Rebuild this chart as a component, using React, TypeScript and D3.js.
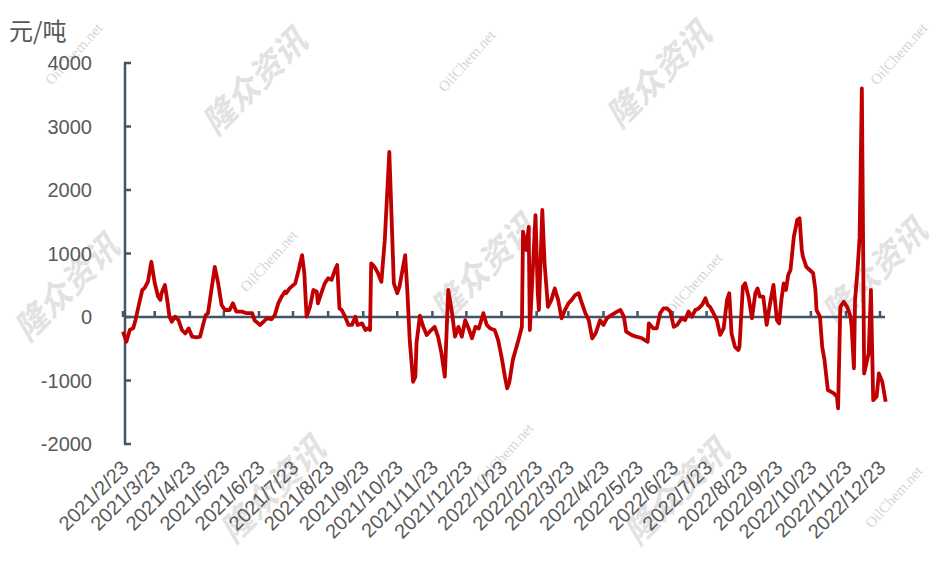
import React from 'react';
import * as d3 from 'd3';

// spread series, 元/吨
const dates = [
  '2021-02-23', '2021-02-26', '2021-03-01', '2021-03-04', '2021-03-06', '2021-03-09', '2021-03-12', '2021-03-14',
  '2021-03-17', '2021-03-20', '2021-03-23', '2021-03-26', '2021-03-28', '2021-03-29', '2021-04-01', '2021-04-03',
  '2021-04-05', '2021-04-07', '2021-04-10', '2021-04-13', '2021-04-16', '2021-04-19', '2021-04-22', '2021-04-25',
  '2021-04-29', '2021-05-02', '2021-05-05', '2021-05-07', '2021-05-09', '2021-05-12', '2021-05-15', '2021-05-18',
  '2021-05-21', '2021-05-24', '2021-05-28', '2021-05-31', '2021-06-03', '2021-06-08', '2021-06-12', '2021-06-17',
  '2021-06-19', '2021-06-24', '2021-06-27', '2021-06-30', '2021-07-04', '2021-07-07', '2021-07-10', '2021-07-13',
  '2021-07-16', '2021-07-17', '2021-07-20', '2021-07-25', '2021-07-28', '2021-07-31', '2021-08-02', '2021-08-04',
  '2021-08-07', '2021-08-10', '2021-08-13', '2021-08-14', '2021-08-17', '2021-08-20', '2021-08-23', '2021-08-26',
  '2021-08-29', '2021-08-31', '2021-09-02', '2021-09-04', '2021-09-07', '2021-09-10', '2021-09-13', '2021-09-16',
  '2021-09-18', '2021-09-22', '2021-09-25', '2021-09-27', '2021-09-29', '2021-09-30', '2021-10-03', '2021-10-06',
  '2021-10-09', '2021-10-12', '2021-10-16', '2021-10-20', '2021-10-23', '2021-10-25', '2021-10-30', '2021-11-01',
  '2021-11-03', '2021-11-06', '2021-11-08', '2021-11-09', '2021-11-12', '2021-11-15', '2021-11-18', '2021-11-22',
  '2021-11-25', '2021-11-28', '2021-12-01', '2021-12-04', '2021-12-07', '2021-12-10', '2021-12-13', '2021-12-16',
  '2021-12-19', '2021-12-22', '2021-12-25', '2021-12-28', '2021-12-31', '2022-01-03', '2022-01-07', '2022-01-10',
  '2022-01-13', '2022-01-17', '2022-01-20', '2022-01-23', '2022-01-26', '2022-01-28', '2022-01-30', '2022-02-02',
  '2022-02-07', '2022-02-10', '2022-02-11', '2022-02-14', '2022-02-16', '2022-02-17', '2022-02-22', '2022-02-24',
  '2022-02-25', '2022-02-28', '2022-03-02', '2022-03-05', '2022-03-08', '2022-03-11', '2022-03-14', '2022-03-17',
  '2022-03-20', '2022-03-23', '2022-03-26', '2022-03-29', '2022-04-01', '2022-04-04', '2022-04-07', '2022-04-10',
  '2022-04-13', '2022-04-16', '2022-04-20', '2022-04-23', '2022-04-26', '2022-04-30', '2022-05-05', '2022-05-08',
  '2022-05-11', '2022-05-13', '2022-05-18', '2022-05-22', '2022-05-27', '2022-06-01', '2022-06-02', '2022-06-06',
  '2022-06-09', '2022-06-12', '2022-06-15', '2022-06-18', '2022-06-21', '2022-06-24', '2022-06-27', '2022-07-01',
  '2022-07-04', '2022-07-07', '2022-07-10', '2022-07-13', '2022-07-16', '2022-07-19', '2022-07-22', '2022-07-24',
  '2022-07-26', '2022-07-29', '2022-08-01', '2022-08-04', '2022-08-07', '2022-08-10', '2022-08-12', '2022-08-14',
  '2022-08-17', '2022-08-20', '2022-08-21', '2022-08-24', '2022-08-26', '2022-08-29', '2022-09-01', '2022-09-04',
  '2022-09-06', '2022-09-08', '2022-09-11', '2022-09-14', '2022-09-17', '2022-09-20', '2022-09-23', '2022-09-25',
  '2022-09-27', '2022-09-29', '2022-10-01', '2022-10-03', '2022-10-05', '2022-10-08', '2022-10-11', '2022-10-13',
  '2022-10-15', '2022-10-16', '2022-10-19', '2022-10-22', '2022-10-25', '2022-10-27', '2022-10-28', '2022-10-31',
  '2022-11-02', '2022-11-04', '2022-11-07', '2022-11-12', '2022-11-15', '2022-11-16', '2022-11-18', '2022-11-21',
  '2022-11-24', '2022-11-27', '2022-11-28', '2022-11-30', '2022-12-01', '2022-12-03', '2022-12-05', '2022-12-07',
  '2022-12-09', '2022-12-13', '2022-12-15', '2022-12-17', '2022-12-20', '2022-12-22', '2022-12-25', '2022-12-28',
];

const values = [
  -230, -390, -205, -175, -50, 190, 425, 455,
  555, 870, 535, 320, 270, 375, 505, 270,
  5, -75, 5, -50, -205, -260, -180, -310,
  -320, -310, -100, 30, 60, 425, 790, 530,
  190, 110, 110, 215, 85, 85, 60, 60,
  -50, -125, -75, -20, -35, 30, 215, 320,
  400, 375, 450, 530, 740, 975, 690, 5,
  160, 425, 400, 215, 375, 530, 610, 585,
  740, 820, 135, 110, 5, -125, -125, 5,
  -125, -100, -205, -180, -205, 845, 790, 690,
  555, 1210, 2600, 530, 375, 480, 975, 375,
  -360, -1020, -940, -415, 20, -155, -285, -205,
  -155, -310, -570, -940, 425, 110, -310, -155,
  -310, -50, -180, -335, -155, -180, 60, -125,
  -180, -205, -360, -625, -940, -1125, -1020, -675,
  -360, -155, 1345, 1055, 1420, -205, 1605, 375,
  110, 1685, 845, 160, 270, 450, 270, -20,
  110, 215, 270, 345, 375, 215, 60, -50,
  -335, -260, -50, -125, -20, 30, 85, 110,
  5, -230, -285, -310, -335, -390, -100, -180,
  -180, 60, 135, 135, 85, -155, -125, -20,
  -50, 85, 5, 110, 135, 190, 295, 190,
  160, 60, -50, -280, -180, 270, 375, -260,
  -470, -520, -470, 480, 530, 320, -20, 375,
  450, 320, 320, -125, 215, 505, -50, -100,
  270, 530, 425, 660, 740, 1265, 1530, 1555,
  1055, 950, 790, 740, 690, 425, 110, 5,
  -470, -675, -1150, -1200, -1255, -1440, 160, 240,
  160, 5, -155, -810, 270, 700, 1250, 3600,
  -890, -570, 425, -1310, -1255, -890, -1020, -1335,
];

const tickLabels = [
  '2021/2/23', '2021/3/23', '2021/4/23', '2021/5/23', '2021/6/23', '2021/7/23', '2021/8/23', '2021/9/23',
  '2021/10/23', '2021/11/23', '2021/12/23', '2022/1/23', '2022/2/23', '2022/3/23', '2022/4/23', '2022/5/23',
  '2022/6/23', '2022/7/23', '2022/8/23', '2022/9/23', '2022/10/23', '2022/11/23', '2022/12/23',
];

const yTicks = [-2000, -1000, 0, 1000, 2000, 3000, 4000];
const unitLabel = '元/吨';

// faint watermarks in the picture
const watermarks = [
  { t: '隆众资讯', x: 258, y: 82 }, { t: '隆众资讯', x: 662, y: 75 }, { t: '隆众资讯', x: 70, y: 288 },
  { t: '隆众资讯', x: 487, y: 268 }, { t: '隆众资讯', x: 878, y: 272 }, { t: '隆众资讯', x: 276, y: 490 },
  { t: '隆众资讯', x: 680, y: 492 },
  { t: 'OilChem.net', x: 75, y: 55 }, { t: 'OilChem.net', x: 468, y: 62 }, { t: 'OilChem.net', x: 900, y: 55 },
  { t: 'OilChem.net', x: 270, y: 262 }, { t: 'OilChem.net', x: 695, y: 285 }, { t: 'OilChem.net', x: 506, y: 455 },
  { t: 'OilChem.net', x: 895, y: 498 },
];

const W = 940;
const H = 564;
const axisColor = '#44546A';
const textColor = '#595959';
const font = '"Liberation Sans", Arial, sans-serif';

export default function App() {
  const parseDay = d3.timeParse('%Y-%m-%d');
  const parseTick = d3.timeParse('%Y/%m/%d');
  const series = dates.map((d, i) => ({ date: parseDay(d) as Date, value: values[i] }));
  const ticks = tickLabels.map((t) => ({ label: t, date: parseTick(t) as Date }));

  const x = d3.scaleTime()
    .domain([ticks[0].date, ticks[ticks.length - 1].date])
    .range([123, 880]);
  const y = d3.scaleLinear().domain([-2000, 4000]).range([444, 63]);

  const line = d3.line<{ date: Date; value: number }>()
    .x((d) => x(d.date))
    .y((d) => y(d.value));

  const y0 = y(0);

  return (
    <svg width={W} height={H} style={{ position: 'absolute', left: 0, top: 0, background: '#fff' }}>
      <rect width={W} height={H} fill="#fff" />

      {/* watermarks */}
      <g pointerEvents="none">
        {watermarks.map((m, i) =>
          m.t === 'OilChem.net' ? (
            <text key={i} transform={`translate(${m.x},${m.y}) rotate(-48)`} textAnchor="middle"
              dominantBaseline="middle" fontFamily='"Liberation Serif", serif' fontSize={15} fill="#d6d6d6">
              {m.t}
            </text>
          ) : (
            <text key={i} transform={`translate(${m.x},${m.y}) rotate(-45) skewX(-15)`} textAnchor="middle"
              dominantBaseline="middle" fontFamily='"Noto Sans CJK SC", sans-serif' fontWeight="bold"
              fontSize={33} fill="#e2e2e2">
              {m.t}
            </text>
          ),
        )}
      </g>

      {/* unit */}
      <text x={9} y={40} fontFamily='"Noto Sans CJK SC", sans-serif' fontSize={24} fill={textColor}>
        {unitLabel}
      </text>

      {/* y axis */}
      <line x1={125} x2={125} y1={y(4000)} y2={y(-2000)} stroke={axisColor} strokeWidth={2.5} />
      {yTicks.map((t) => (
        <g key={t}>
          <line x1={124} x2={131} y1={y(t)} y2={y(t)} stroke={axisColor} strokeWidth={2.5} />
          <text x={92} y={y(t)} dy="0.35em" textAnchor="end" fontFamily={font} fontSize={20} fill={textColor}>
            {t}
          </text>
        </g>
      ))}

      {/* x axis at zero */}
      <line x1={124} x2={885} y1={y0} y2={y0} stroke={axisColor} strokeWidth={2.5} />
      {ticks.map((t) => (
        <line key={t.label} x1={x(t.date)} x2={x(t.date)} y1={y0} y2={y0 - 6} stroke={axisColor} strokeWidth={2.5} />
      ))}
      {ticks.map((t) => (
        <text key={t.label} transform={`translate(${x(t.date) + 2},${464}) rotate(-45)`} dy="0.35em"
          textAnchor="end" fontFamily={font} fontSize={20} fill={textColor}>
          {t.label}
        </text>
      ))}

      {/* series */}
      <path d={line(series) || ''} fill="none" stroke="#C00000" strokeWidth={3.8} strokeLinejoin="round" />
    </svg>
  );
}
